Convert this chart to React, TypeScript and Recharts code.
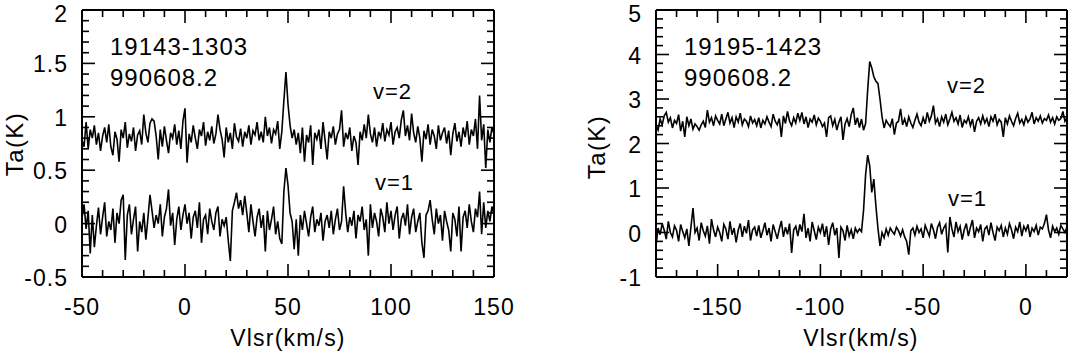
import React from 'react';
import { LineChart, Line, XAxis, YAxis } from 'recharts';

const FONT = '"Liberation Sans", Arial, Helvetica, sans-serif';

// 19143-1303, channels from -50 km/s, 1 km/s apart
const LEFT_START = -50;
const LEFT_V2 = [
  0.78, 0.72, 0.95, 0.70, 0.88, 0.80, 0.92, 0.74, 0.85, 0.68,
  0.82, 0.90, 0.76, 0.93, 0.72, 0.64, 0.86, 0.79, 0.58, 0.88,
  0.80, 0.95, 0.71, 0.84, 0.77, 0.90, 0.68, 0.83, 0.87, 0.74,
  1.02, 0.85, 0.76, 0.94, 0.98, 0.96, 0.82, 0.60, 0.88, 0.72,
  0.91, 0.78, 0.66, 0.85, 0.80, 0.93, 0.74, 0.87, 0.70, 0.96,
  1.08, 0.57, 0.84, 0.76, 0.92, 0.80, 0.70, 0.88, 0.82, 0.95,
  0.73, 0.86, 0.78, 0.91, 0.75, 0.84, 1.02, 0.88, 0.79, 0.62,
  0.90, 0.76, 0.85, 0.70, 0.94, 0.81, 0.77, 0.89, 0.72, 0.86,
  0.80, 0.92, 0.74, 0.87, 0.83, 0.95, 0.78, 0.86, 0.76, 1.00,
  0.82, 0.90, 0.75, 0.88, 0.84, 0.96, 0.70, 0.86, 1.15, 1.42,
  1.12, 0.92, 0.80, 0.88, 0.74, 0.85, 0.66, 0.90, 0.58, 0.83,
  0.76, 0.92, 0.55, 0.85, 0.79, 0.88, 0.70, 0.95, 0.78, 0.60,
  0.86, 0.80, 0.91, 0.74, 0.84, 0.88, 1.06, 0.72, 0.85, 0.79,
  0.90, 0.68, 0.82, 0.76, 0.55, 0.86, 0.78, 0.93, 0.80, 1.02,
  0.84, 0.76, 0.90, 0.72, 0.86, 0.81, 0.94, 0.77, 0.88, 0.83,
  0.95, 0.74, 0.86, 0.90, 0.80, 0.97, 1.06, 0.82, 0.92, 0.78,
  1.03, 0.85, 0.76, 0.91, 0.80, 0.58, 0.87, 0.79, 0.93, 0.74,
  0.88, 0.82, 0.70, 0.92, 0.78, 0.85, 0.90, 0.75, 0.87, 0.64,
  0.84, 0.94, 0.77, 0.86, 0.72, 0.90, 0.81, 0.96, 0.74, 0.88,
  0.82, 0.98, 0.70, 1.20, 0.78, 0.93, 0.52, 0.88, 0.76, 0.90, 0.84,
];
const LEFT_V1 = [
  0.05, 0.18, -0.05, 0.12, -0.28, 0.08, -0.22, -0.02, 0.15, -0.10,
  0.06, 0.20, -0.12, 0.02, -0.06, 0.14, -0.18, 0.10, 0.00, 0.22,
  0.27, -0.34, 0.08, 0.18, -0.10, 0.04, 0.16, -0.26, 0.02, -0.08,
  0.10, -0.15, 0.05, 0.27, 0.12, -0.04, 0.08, 0.00, 0.18, -0.12,
  0.06, 0.14, 0.32, -0.02, 0.10, -0.20, 0.04, 0.16, -0.06, 0.08,
  0.18, 0.00, 0.10, -0.14, 0.06, 0.12, -0.04, 0.20, -0.18, 0.04,
  0.08, -0.10, 0.14, 0.02, -0.06, 0.10, 0.16, -0.12, 0.04, -0.02,
  0.06, -0.16, -0.35, 0.12, 0.20, 0.29, 0.14, 0.22, 0.08, 0.26,
  0.10, -0.08, 0.18, 0.02, -0.12, 0.06, 0.14, -0.04, 0.08, -0.26,
  0.12, -0.06, 0.04, 0.16, -0.10, 0.02, -0.14, -0.19, 0.30, 0.52,
  0.36, 0.10, 0.02, -0.24, 0.04, -0.30, 0.08, -0.06, 0.12, 0.00,
  -0.12, 0.06, 0.16, -0.08, 0.04, -0.02, 0.10, -0.16, 0.02, 0.08,
  -0.04, 0.12, -0.10, 0.04, 0.14, -0.06, 0.02, 0.35, 0.10, -0.08,
  0.06, -0.02, 0.12, -0.14, 0.08, 0.02, 0.16, -0.06, 0.04, -0.30,
  0.18, -0.04, 0.10, 0.02, -0.12, 0.14, 0.06, -0.08, 0.20, 0.00,
  0.12, -0.06, 0.08, 0.16, -0.14, 0.04, 0.10, -0.02, 0.18, -0.10,
  0.06, 0.14, -0.08, 0.02, 0.10, -0.18, -0.32, 0.08, 0.12, 0.22,
  0.04, -0.10, 0.14, 0.00, 0.08, -0.16, 0.12, 0.02, -0.06, -0.26,
  0.10, 0.04, -0.12, 0.16, -0.26, 0.06, 0.12, -0.04, 0.18, 0.02,
  -0.08, 0.14, 0.06, 0.30, -0.10, 0.20, -0.04, 0.12, 0.02, 0.16, 0.08,
];

// 19195-1423, channels from -180 km/s, 1 km/s apart
const RIGHT_START = -180;
const RIGHT_V2 = [
  2.40, 2.30, 2.55, 2.42, 2.62, 2.70, 2.48, 2.58, 2.35, 2.52,
  2.45, 2.65, 2.28, 2.50, 2.15, 2.60, 2.40, 2.55, 2.32, 2.44,
  2.38, 2.30, 2.42, 2.50, 2.36, 2.75, 2.48, 2.58, 2.40, 2.62,
  2.52, 2.44, 2.66, 2.40, 2.55, 2.70, 2.46, 2.58, 2.36, 2.60,
  2.48, 2.68, 2.42, 2.55, 2.50, 2.38, 2.62, 2.46, 2.54, 2.40,
  2.58, 2.35, 2.52, 2.44, 2.60, 2.48, 2.38, 2.66, 2.50, 2.42,
  2.56, 2.15, 2.62, 2.45, 2.72, 2.50, 2.40, 2.58, 2.46, 2.68,
  2.52, 2.70, 2.44, 2.60, 2.36, 2.55, 2.48, 2.64, 2.42, 2.57,
  2.50, 2.38, 2.46, 2.15, 2.58, 2.62, 2.40, 2.54, 2.30, 2.48,
  2.60, 2.08, 2.44, 2.56, 2.38, 2.65, 2.80, 2.42, 2.58, 2.36,
  2.55, 2.30, 2.45, 3.20, 3.84, 3.70, 3.50, 3.40, 3.35, 3.00,
  2.60, 2.35, 2.52, 2.44, 2.38, 2.56, 2.20, 2.46, 2.50, 2.78,
  2.42, 2.55, 2.38, 2.60, 2.46, 2.36, 2.52, 2.66, 2.48, 2.40,
  2.58, 2.44, 2.70, 2.50, 2.62, 2.85, 2.46, 2.56, 2.38, 2.60,
  2.48, 2.66, 2.42, 2.55, 2.70, 2.50, 2.58, 2.44, 2.64, 2.36,
  2.52, 2.46, 2.60, 2.40, 2.55, 2.26, 2.50, 2.58, 2.44, 2.62,
  2.46, 2.56, 2.38, 2.60, 2.50, 2.66, 2.42, 2.54, 2.48, 2.15,
  2.58, 2.44, 2.62, 2.50, 2.40, 2.56, 2.68, 2.46, 2.54, 2.42,
  2.60, 2.48, 2.55, 2.70, 2.44, 2.58, 2.50, 2.62, 2.46, 2.56, 2.52,
  2.64, 2.48, 2.58, 2.44, 2.60, 2.52, 2.56, 2.72, 2.50, 2.58,
];
const RIGHT_V1 = [
  -0.30, 0.10, -0.05, 0.20, 0.05, -0.15, 0.25, 0.00, -0.10, 0.15,
  0.05, -0.20, 0.18, 0.02, -0.12, 0.08, -0.30, 0.12, 0.55, 0.00,
  0.10, -0.18, 0.22, 0.04, -0.08, 0.15, -0.25, 0.30, 0.06, -0.10,
  0.12, 0.00, -0.20, 0.18, 0.08, -0.15, 0.25, -0.05, 0.10, -0.22,
  0.05, 0.20, -0.10, 0.14, -0.02, 0.28, -0.18, 0.06, 0.12, -0.08,
  0.16, -0.12, 0.04, 0.22, -0.06, 0.10, -0.20, 0.18, 0.02, -0.14,
  0.08, 0.26, -0.10, 0.12, -0.04, 0.20, -0.46, 0.06, 0.14, -0.08,
  0.18, 0.02, 0.42, -0.12, 0.10, -0.20, 0.24, 0.04, -0.16, 0.12,
  0.00, 0.20, -0.10, 0.14, -0.28, 0.08, 0.22, -0.06, 0.10, -0.57,
  0.12, 0.04, -0.18, 0.16, -0.08, 0.06, -0.14, 0.10, 0.00, 0.08,
  0.02, 0.50, 1.30, 1.74, 1.50, 0.90, 1.20, 0.60, 0.10, -0.30,
  0.00, -0.12, 0.08, -0.06, 0.10, 0.02, -0.04, 0.12, 0.04, -0.08,
  0.06, -0.10, -0.20, -0.50, 0.04, 0.10, -0.06, 0.14, 0.00, 0.08,
  -0.12, 0.16, 0.04, -0.08, 0.20, 0.06, -0.14, 0.12, 0.22, -0.04,
  0.10, 0.18, -0.45, 0.35, 0.08, -0.10, 0.24, 0.02, 0.14, -0.16,
  0.06, 0.20, -0.08, 0.12, 0.28, -0.12, 0.10, 0.02, 0.18, -0.20,
  0.08, 0.14, -0.06, 0.22, 0.00, -0.18, 0.12, 0.04, 0.16, -0.10,
  0.10, -0.04, 0.20, 0.06, -0.14, 0.12, 0.02, 0.24, -0.08, 0.14,
  0.04, 0.18, -0.10, 0.10, 0.02, 0.16, -0.06, 0.12, 0.08, 0.20, 0.40,
  0.06, -0.12, 0.14, 0.02, 0.10, -0.04, 0.16, 0.08, 0.00, 0.12,
];

const LEFT_X_TICKS = [-50, -40, -30, -20, -10, 0, 10, 20, 30, 40, 50, 60, 70, 80, 90, 100, 110, 120, 130, 140, 150];
const LEFT_X_LABELS = [-50, 0, 50, 100, 150];
const LEFT_Y_TICKS = [-0.5, -0.4, -0.3, -0.2, -0.1, 0, 0.1, 0.2, 0.3, 0.4, 0.5, 0.6, 0.7, 0.8, 0.9, 1, 1.1, 1.2, 1.3, 1.4, 1.5, 1.6, 1.7, 1.8, 1.9, 2];
const LEFT_Y_LABELS = [-0.5, 0, 0.5, 1, 1.5, 2];

const RIGHT_X_TICKS = [-180, -170, -160, -150, -140, -130, -120, -110, -100, -90, -80, -70, -60, -50, -40, -30, -20, -10, 0, 10, 20];
const RIGHT_X_LABELS = [-150, -100, -50, 0];
const RIGHT_Y_TICKS = [-1, -0.8, -0.6, -0.4, -0.2, 0, 0.2, 0.4, 0.6, 0.8, 1, 1.2, 1.4, 1.6, 1.8, 2, 2.2, 2.4, 2.6, 2.8, 3, 3.2, 3.4, 3.6, 3.8, 4, 4.2, 4.4, 4.6, 4.8, 5];
const RIGHT_Y_LABELS = [-1, 0, 1, 2, 3, 4, 5];

const toRows = (start: number, v2: number[], v1: number[]) =>
  v2.map((t, i) => ({ v: start + i, v2: t, v1: v1[i] }));

const MAJOR = 13;
const MINOR = 7;
const isMajor = (val: number, labels: number[]) => labels.some((l) => Math.abs(l - val) < 1e-6);

const labelStyle = { fontFamily: FONT, fontSize: 23, letterSpacing: 1, fill: '#000' };

const bottomTick = (labels: number[]) => (props: any) => {
  const { x, y, payload } = props;
  const major = isMajor(payload.value, labels);
  return (
    <g>
      <line x1={x} y1={y} x2={x} y2={y - (major ? MAJOR : MINOR)} stroke="#000" strokeWidth={1.6} />
      {major && (
        <text x={x} y={y + 38} textAnchor="middle" style={labelStyle}>{payload.value}</text>
      )}
    </g>
  );
};

const topTick = (labels: number[]) => (props: any) => {
  const { x, y, payload } = props;
  const major = isMajor(payload.value, labels);
  return <line x1={x} y1={y} x2={x} y2={y + (major ? MAJOR : MINOR)} stroke="#000" strokeWidth={1.6} />;
};

const leftTick = (labels: number[]) => (props: any) => {
  const { x, y, payload } = props;
  const major = isMajor(payload.value, labels);
  return (
    <g>
      <line x1={x} y1={y} x2={x + (major ? MAJOR : MINOR)} y2={y} stroke="#000" strokeWidth={1.6} />
      {major && (
        // the top label sits a little lower so it stays inside the page
        <text x={x - 14} y={Math.max(y + 9, 22)} textAnchor="end" style={labelStyle}>{payload.value}</text>
      )}
    </g>
  );
};

const rightTick = (labels: number[]) => (props: any) => {
  const { x, y, payload } = props;
  const major = isMajor(payload.value, labels);
  return <line x1={x} y1={y} x2={x - (major ? MAJOR : MINOR)} y2={y} stroke="#000" strokeWidth={1.6} />;
};

const axisLine = { stroke: '#000', strokeWidth: 2 };

type PanelProps = {
  rows: any[];
  width: number;
  yAxisWidth: number;
  rightMargin: number;
  xDomain: [number, number];
  yDomain: [number, number];
  xTicks: number[];
  xLabels: number[];
  yTicks: number[];
  yLabels: number[];
};

const Panel: React.FC<PanelProps> = ({ rows, width, yAxisWidth, rightMargin, xDomain, yDomain, xTicks, xLabels, yTicks, yLabels }) => (
  <LineChart width={width} height={351} data={rows} margin={{ top: 9, right: rightMargin, left: 0, bottom: 0 }}>
    <XAxis xAxisId="b" dataKey="v" type="number" domain={xDomain} ticks={xTicks} interval={0}
      allowDataOverflow height={74} tickSize={0} tickMargin={0} axisLine={axisLine} tick={bottomTick(xLabels)} />
    <XAxis xAxisId="t" dataKey="v" type="number" orientation="top" domain={xDomain} ticks={xTicks} interval={0}
      allowDataOverflow height={1} tickSize={0} tickMargin={0} axisLine={axisLine} tick={topTick(xLabels)} />
    <YAxis yAxisId="l" type="number" domain={yDomain} ticks={yTicks} interval={0}
      allowDataOverflow width={yAxisWidth} tickSize={0} tickMargin={0} axisLine={axisLine} tick={leftTick(yLabels)} />
    <YAxis yAxisId="r" type="number" orientation="right" domain={yDomain} ticks={yTicks} interval={0}
      allowDataOverflow width={1} tickSize={0} tickMargin={0} axisLine={axisLine} tick={rightTick(yLabels)} />
    <Line xAxisId="b" yAxisId="l" type="linear" dataKey="v2" stroke="#000" strokeWidth={1.6} dot={false} isAnimationActive={false} />
    <Line xAxisId="b" yAxisId="l" type="linear" dataKey="v1" stroke="#000" strokeWidth={1.6} dot={false} isAnimationActive={false} />
  </LineChart>
);

const textStyle = { fontFamily: FONT, fill: '#000' };

export default function App() {
  return (
    <div style={{ position: 'absolute', left: 0, top: 0, width: 1068, height: 351, background: '#fff' }}>
      <div style={{ position: 'absolute', left: 0, top: 0 }}>
        <Panel rows={toRows(LEFT_START, LEFT_V2, LEFT_V1)} width={540} yAxisWidth={82} rightMargin={45}
          xDomain={[-50, 150]} yDomain={[-0.5, 2]} xTicks={LEFT_X_TICKS} xLabels={LEFT_X_LABELS}
          yTicks={LEFT_Y_TICKS} yLabels={LEFT_Y_LABELS} />
      </div>
      <div style={{ position: 'absolute', left: 540, top: 0 }}>
        <Panel rows={toRows(RIGHT_START, RIGHT_V2, RIGHT_V1)} width={528} yAxisWidth={116} rightMargin={0}
          xDomain={[-180, 20]} yDomain={[-1, 5]} xTicks={RIGHT_X_TICKS} xLabels={RIGHT_X_LABELS}
          yTicks={RIGHT_Y_TICKS} yLabels={RIGHT_Y_LABELS} />
      </div>
      <svg width={1068} height={351} style={{ position: 'absolute', left: 0, top: 0, pointerEvents: 'none' }}>
        {/* left panel text */}
        <text x={110} y={55} style={{ ...textStyle, fontSize: 24, letterSpacing: 1 }}>19143-1303</text>
        <text x={110} y={86} style={{ ...textStyle, fontSize: 24, letterSpacing: 1 }}>990608.2</text>
        <text x={373} y={99} style={{ ...textStyle, fontSize: 22, letterSpacing: 1 }}>v=2</text>
        <text x={375} y={190} style={{ ...textStyle, fontSize: 22, letterSpacing: 1 }}>v=1</text>
        <text x={288} y={346} textAnchor="middle" style={{ ...textStyle, fontSize: 23, letterSpacing: 1.2 }}>Vlsr(km/s)</text>
        <text x={14} y={144} textAnchor="middle" dominantBaseline="central" transform="rotate(-90 14 144)"
          style={{ ...textStyle, fontSize: 24, letterSpacing: 1.4 }}>Ta(K)</text>
        {/* right panel text */}
        <text x={684} y={55} style={{ ...textStyle, fontSize: 24, letterSpacing: 1 }}>19195-1423</text>
        <text x={684} y={86} style={{ ...textStyle, fontSize: 24, letterSpacing: 1 }}>990608.2</text>
        <text x={947} y={93} style={{ ...textStyle, fontSize: 22, letterSpacing: 1 }}>v=2</text>
        <text x={948} y={206} style={{ ...textStyle, fontSize: 22, letterSpacing: 1 }}>v=1</text>
        <text x={861} y={346} textAnchor="middle" style={{ ...textStyle, fontSize: 23, letterSpacing: 1.2 }}>Vlsr(km/s)</text>
        <text x={596} y={147} textAnchor="middle" dominantBaseline="central" transform="rotate(-90 596 147)"
          style={{ ...textStyle, fontSize: 24, letterSpacing: 1.4 }}>Ta(K)</text>
      </svg>
    </div>
  );
}
